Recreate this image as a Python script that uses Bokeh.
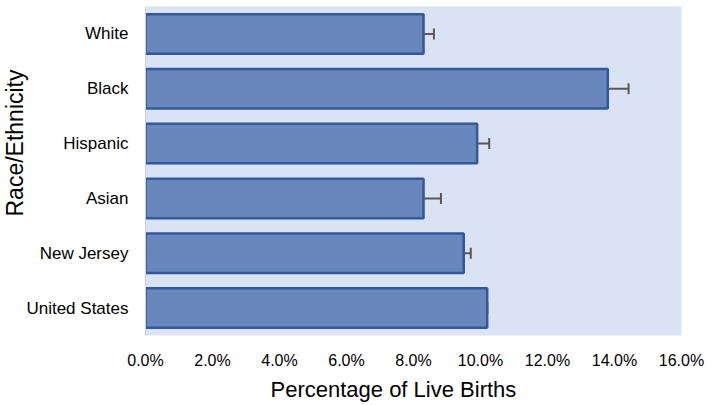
from bokeh.plotting import figure
from bokeh.models import (ColumnDataSource, FactorRange, Range1d, FixedTicker,
                          PrintfTickFormatter, Whisker, TeeHead, Title)
from bokeh.embed import file_html
from bokeh.resources import INLINE

# ---- data ----
categories = ["White", "Black", "Hispanic", "Asian", "New Jersey", "United States"]
values = [8.3, 13.8, 9.9, 8.3, 9.5, 10.2]          # percentage of live births
errors = [0.31, 0.62, 0.36, 0.52, 0.21, 0.0]       # +/- error bar half-widths
x_ticks = [0, 2, 4, 6, 8, 10, 12, 14, 16]
x_title = "Percentage of Live Births"
y_title = "Race/Ethnicity"

lower = [v - e for v, e in zip(values, errors)]
upper = [v + e for v, e in zip(values, errors)]

src = ColumnDataSource(dict(cat=categories, val=values, lo=lower, hi=upper))

factors = list(reversed(categories))

p = figure(width=725, height=405, output_backend="svg", toolbar_location=None,
           y_range=FactorRange(*factors), x_range=Range1d(0, 16),
           min_border_left=145, min_border_right=44,
           min_border_top=6, min_border_bottom=69)

p.background_fill_color = "#DAE3F3"
p.border_fill_color = "white"
p.outline_line_color = None
p.xgrid.visible = False
p.ygrid.visible = False

p.hbar(y="cat", right="val", left=0, height=0.72, source=src,
       fill_color="#6787BD", line_color="#3159A0", line_width=2.5)

err_color = "#595959"
w = Whisker(base="cat", lower="lo", upper="hi", dimension="width", source=src,
            line_color=err_color, line_width=2,
            lower_head=TeeHead(size=11, line_color=err_color, line_width=2),
            upper_head=TeeHead(size=11, line_color=err_color, line_width=2))
p.add_layout(w)

# x axis
xa = p.xaxis[0]
xa.ticker = FixedTicker(ticks=x_ticks)
xa.formatter = PrintfTickFormatter(format="%.1f%%")
xa.axis_line_color = None
xa.major_tick_line_color = None
xa.minor_tick_line_color = None
xa.major_tick_out = 0
xa.major_tick_in = 0
xa.major_label_standoff = 16
xa.major_label_text_font = "Liberation Sans"
xa.major_label_text_font_size = "16px"
xa.major_label_text_color = "#000000"

# y axis
ya = p.yaxis[0]
ya.axis_line_color = "#D0D0D0"
ya.major_tick_line_color = None
ya.minor_tick_line_color = None
ya.major_tick_out = 0
ya.major_tick_in = 0
ya.major_label_standoff = 17
ya.major_label_text_font = "Liberation Sans"
ya.major_label_text_font_size = "17px"
ya.major_label_text_color = "#000000"

# axis titles (placed off-centre like the reference)
p.add_layout(Title(text=x_title, align="left", offset=125, standoff=7,
                   text_font="Liberation Sans", text_font_size="22px",
                   text_font_style="normal", text_color="#000000"), "below")
p.add_layout(Title(text=y_title, align="left", offset=119, standoff=-8,
                   text_font="Liberation Sans", text_font_size="23px",
                   text_font_style="normal", text_color="#000000"), "left")

open("out.html", "w").write(file_html(p, INLINE))
